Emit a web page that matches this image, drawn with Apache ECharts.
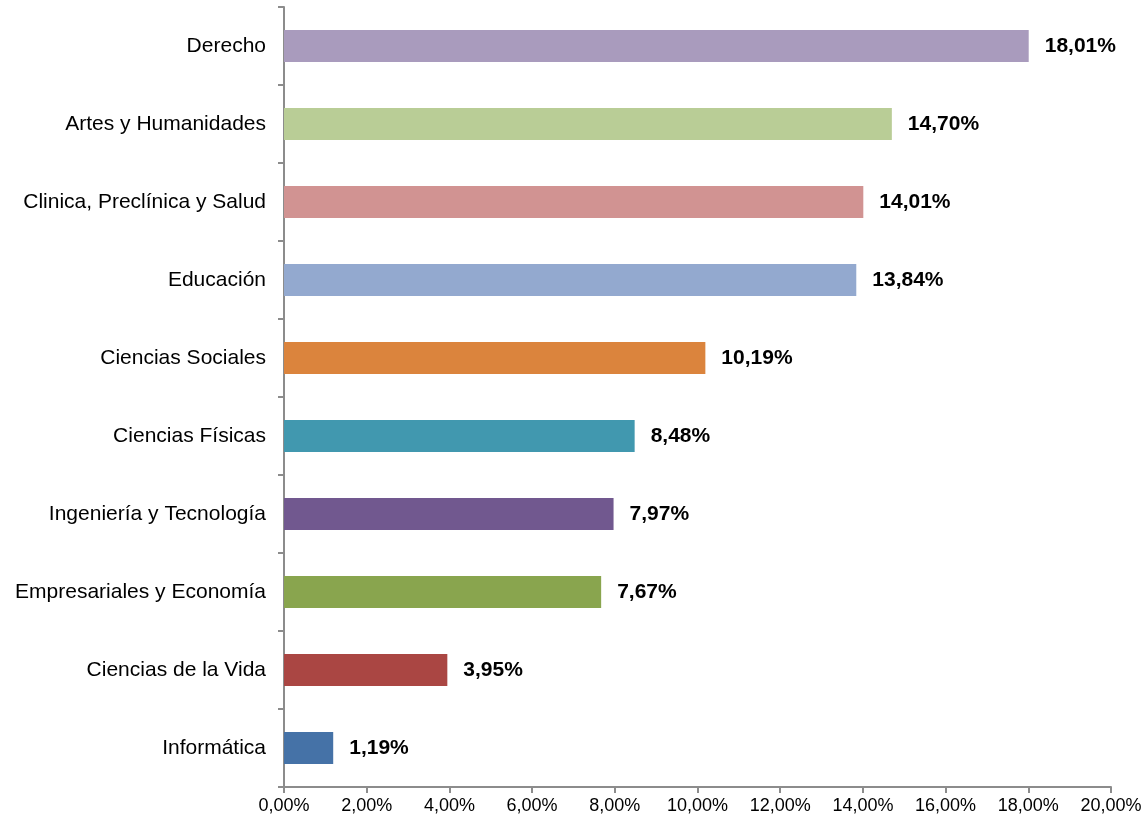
<!DOCTYPE html>
<html>
<head>
<meta charset="utf-8">
<script src="https://cdn.jsdelivr.net/npm/echarts@6/dist/echarts.min.js"></script>
<style>
  html, body { margin: 0; padding: 0; background: #fff; }
  #chart { width: 1148px; height: 819px; }
</style>
</head>
<body>
<div id="chart"></div>
<script>
// categories bottom -> top (yAxis category order)
var categories = ['Informática', 'Ciencias de la Vida', 'Empresariales y Economía', 'Ingeniería y Tecnología',
  'Ciencias Físicas', 'Ciencias Sociales', 'Educación', 'Clinica, Preclínica y Salud', 'Artes y Humanidades', 'Derecho'];
var values = [1.19, 3.95, 7.67, 7.97, 8.48, 10.19, 13.84, 14.01, 14.70, 18.01];
var barColors = ['#4572A7', '#AA4643', '#89A54E', '#71588F', '#4198AF', '#DB843D', '#93A9CF', '#D19392', '#B9CD96', '#A99BBD'];
var xTicks = [0, 2, 4, 6, 8, 10, 12, 14, 16, 18, 20];

var chart = echarts.init(document.getElementById('chart'));

function fmt(v) {
  return v.toFixed(2).replace('.', ',') + '%';
}

var option = {
  animation: false,
  grid: { left: 284, right: 37, top: 7, bottom: 32, containLabel: false },
  xAxis: {
    type: 'value',
    min: xTicks[0],
    max: xTicks[xTicks.length - 1],
    interval: 2,
    splitLine: { show: false },
    axisLine: { show: true, lineStyle: { color: '#8c8c8c', width: 2 } },
    axisTick: { show: true, length: 6, lineStyle: { color: '#8c8c8c', width: 2 } },
    axisLabel: {
      color: '#000', fontFamily: 'Liberation Sans, Arial', fontSize: 18, margin: 10,
      formatter: function (v) { return fmt(v); }
    }
  },
  yAxis: {
    type: 'category',
    data: categories,
    axisLine: { show: true, lineStyle: { color: '#8c8c8c', width: 2 } },
    axisTick: { show: true, length: 6, alignWithLabel: false, lineStyle: { color: '#8c8c8c', width: 2 } },
    axisLabel: { color: '#000', fontFamily: 'Liberation Sans, Arial', fontSize: 21, margin: 18 }
  },
  series: [{
    type: 'bar',
    barWidth: 32,
    data: values.map(function (v, i) {
      return { value: v, itemStyle: { color: barColors[i] } };
    }),
    label: {
      show: true,
      position: 'right',
      distance: 16,
      color: '#000',
      fontWeight: 'bold',
      fontFamily: 'Liberation Sans, Arial',
      fontSize: 21,
      formatter: function (p) { return fmt(p.value); }
    }
  }]
};

chart.setOption(option);
</script>
</body>
</html>
